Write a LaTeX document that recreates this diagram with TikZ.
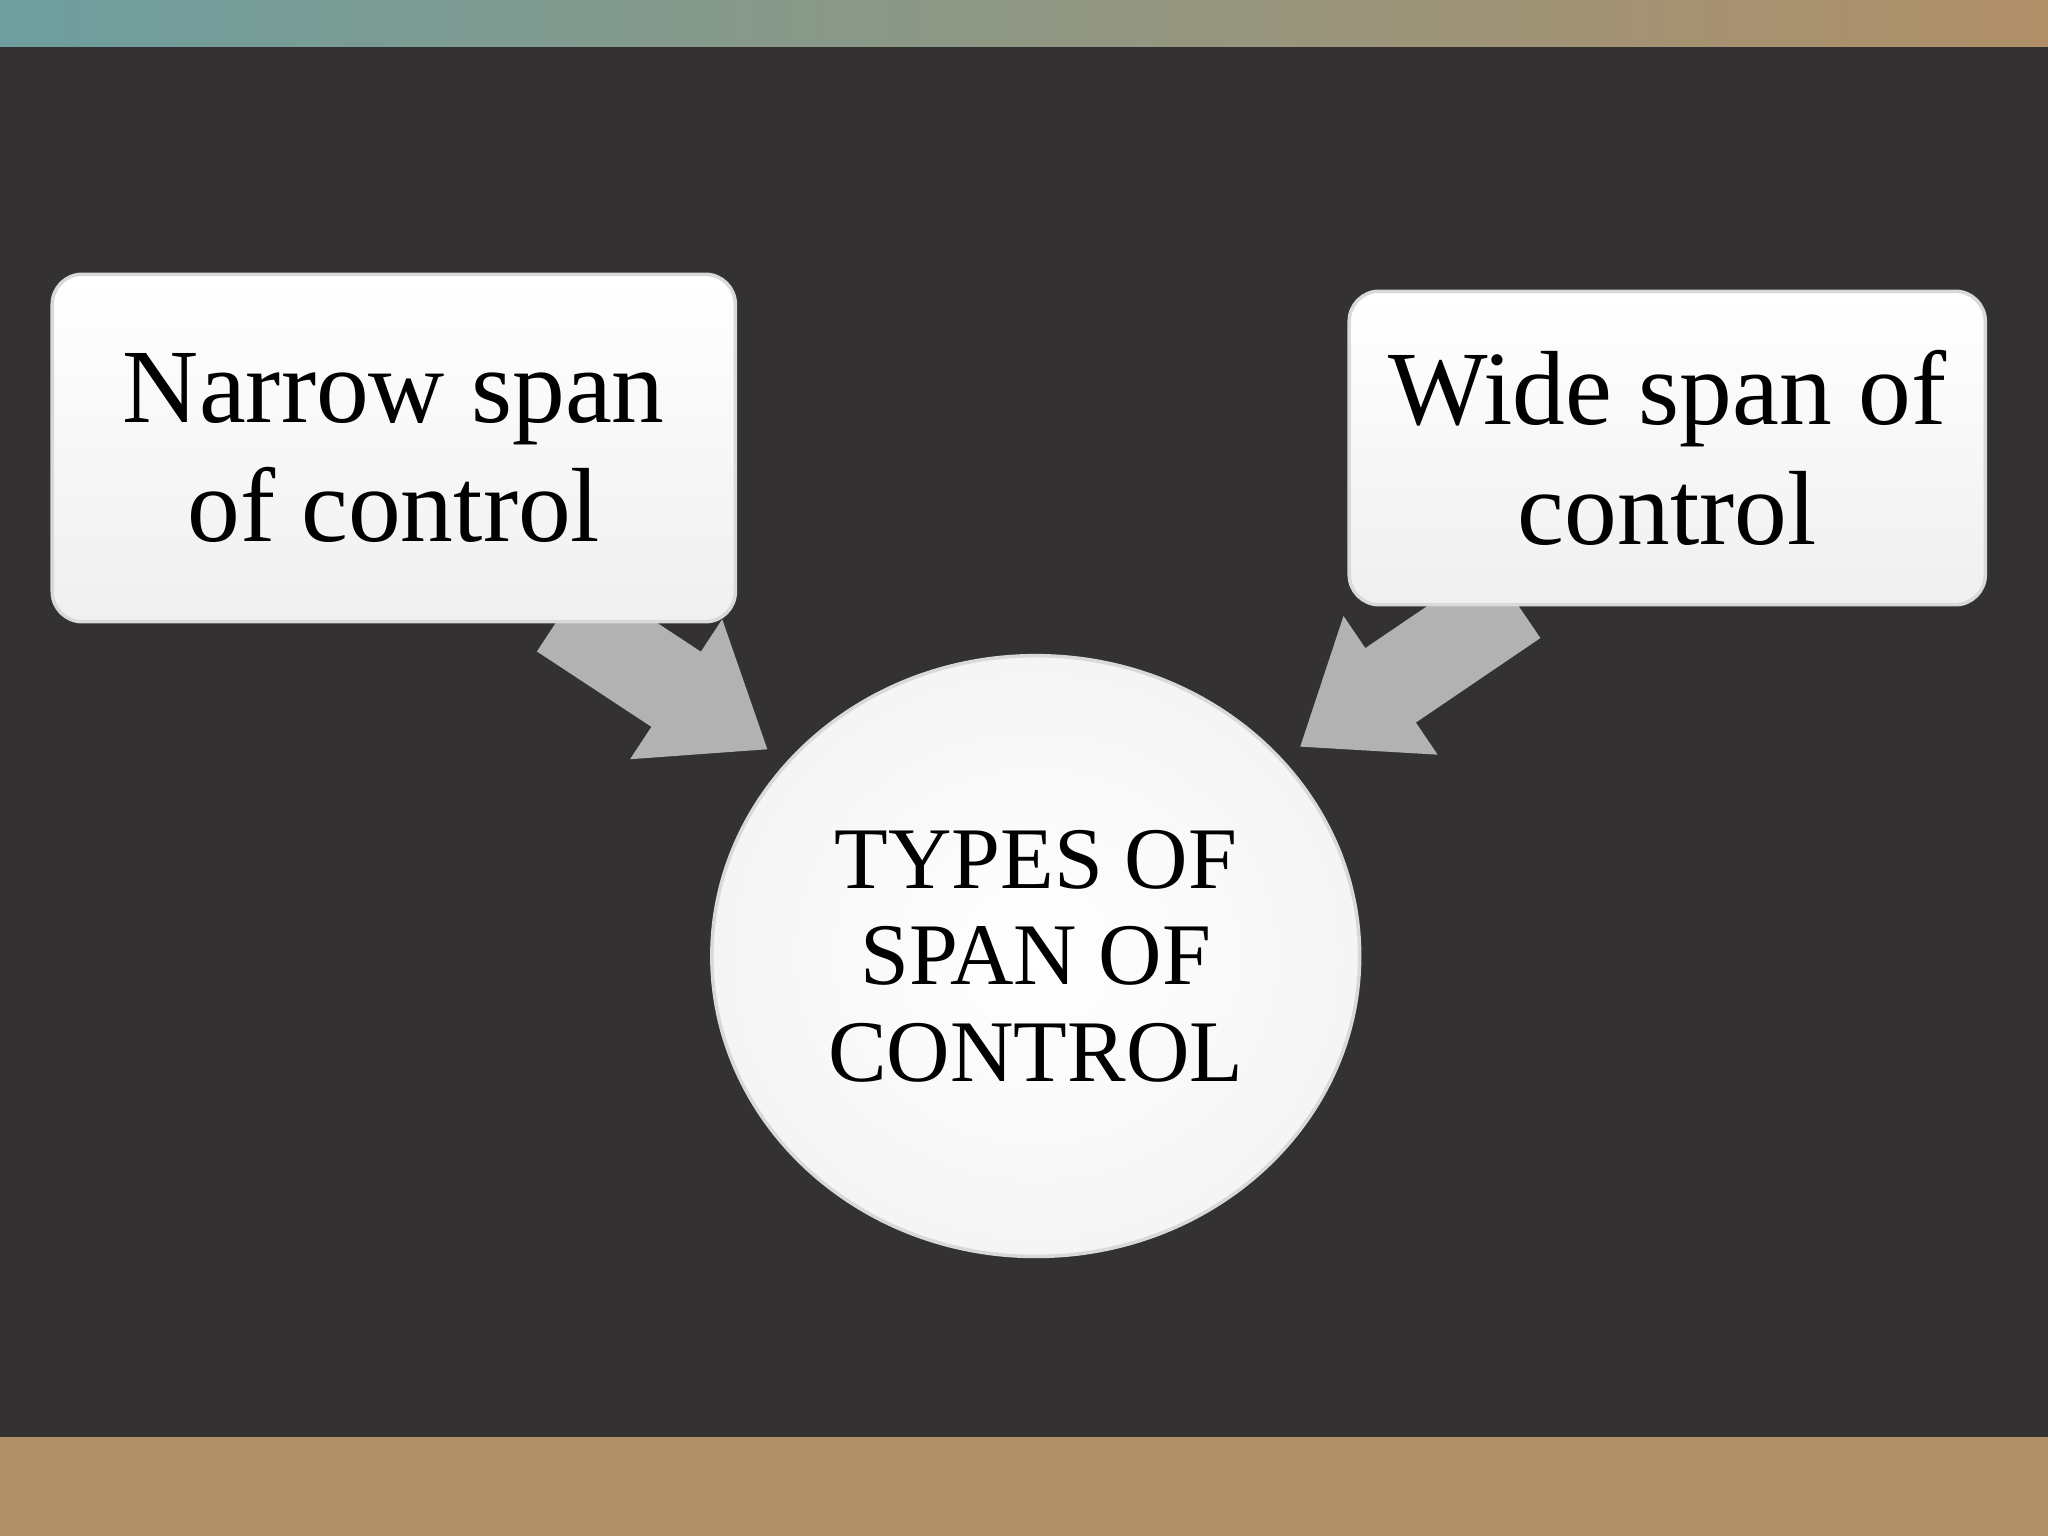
\documentclass[tikz,border=0pt]{standalone}
\usepackage{fontspec}
\setmainfont{Liberation Serif}
\usetikzlibrary{arrows.meta,shapes.geometric}
\definecolor{bgdark}{HTML}{333131}
\definecolor{tan}{HTML}{B08F68}
\definecolor{teal}{HTML}{6E9E9E}
\definecolor{arrowgray}{HTML}{B2B2B2}
\tikzset{
  box/.style={rounded corners=0.3cm, top color=white, bottom color=gray!12, draw=gray!30, line width=1pt, align=center, font=\fontsize{30}{34}\selectfont, inner sep=0pt},
  bigarrow/.style={arrowgray, line width=0.9cm, -{Triangle[width=1.6cm,length=1.1cm]}},
}
\begin{document}
\begin{tikzpicture}[x=0.01306cm,y=-0.01306cm]
\useasboundingbox (0,0) rectangle (1568,1176);
\fill[left color=teal, right color=tan] (0,0) rectangle (1568,36);
\fill[bgdark] (0,36) rectangle (1568,1100);
\fill[tan] (0,1100) rectangle (1568,1176);
\coordinate (la) at (430,470);
\coordinate (lt) at (588,574);
\coordinate (ra) at (1160,460);
\coordinate (rt) at (995,572);
\draw[bigarrow] (la) -- (lt);
\draw[bigarrow] (ra) -- (rt);
\node[box, minimum width=523*0.01306cm, minimum height=266*0.01306cm] (L) at (301.5,343) {Narrow span\\of control};
\node[box, minimum width=487*0.01306cm, minimum height=240*0.01306cm] (R) at (1276.5,343) {Wide span of\\control};
\node[ellipse, draw=gray!30, line width=1pt, inner color=white, outer color=gray!8, minimum width=496*0.01306cm, minimum height=460*0.01306cm, align=center, font=\fontsize{25}{27.5}\selectfont] (C) at (793,732) {TYPES OF\\SPAN OF\\CONTROL};
\end{tikzpicture}
\end{document}
